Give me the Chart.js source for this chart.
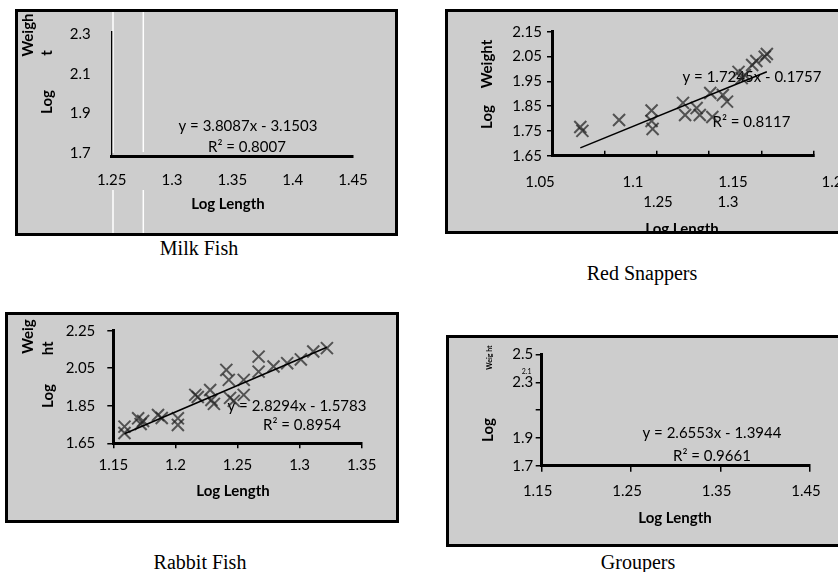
<!DOCTYPE html>
<html>
<head>
<meta charset="utf-8">
<script src="https://cdn.jsdelivr.net/npm/chart.js@4"></script>
<style>
  body { margin:0; background:#fff; width:838px; height:572px; overflow:hidden; position:relative; }
  .box { position:absolute; background:#cdcdcd; border:3px solid #000; }
  .box canvas { display:block; }
  .cap { position:absolute; transform:translate(-50%,-50%); white-space:nowrap; color:#000;
         font-family:"Liberation Serif","Times New Roman",serif; font-size:20px; }
</style>
</head>
<body>

<div class="box" style="left:15px;top:9px;"><canvas id="milk" width="377" height="221"></canvas></div>
<div class="box" style="left:445px;top:9px;"><canvas id="snapper" width="400" height="219"></canvas></div>
<div class="box" style="left:5px;top:312px;"><canvas id="rabbit" width="388" height="205"></canvas></div>
<div class="box" style="left:446px;top:335px;"><canvas id="grouper" width="400" height="206"></canvas></div>

<div class="cap" style="left:199px;top:248px;">Milk Fish</div>
<div class="cap" style="left:642px;top:273px;">Red Snappers</div>
<div class="cap" style="left:200px;top:562px;">Rabbit Fish</div>
<div class="cap" style="left:638px;top:562px;">Groupers</div>

<script>
// ---- data ----
// Milk Fish (no points visible, only axes + fit text)
const milkXTicks = [1.25, 1.3, 1.35, 1.4, 1.45];
const milkXLabels = ["1.25", "1.3", "1.35", "1.4", "1.45"];
const milkYTicks = [1.7, 1.9, 2.1, 2.3];
const milkYLabels = ["1.7", "1.9", "2.1", "2.3"];
const milkFit = [3.8087, -3.1503, 0.8007];

// Red Snappers
const snapperLogLength = [1.077, 1.079, 1.114, 1.145, 1.145, 1.146, 1.175, 1.177, 1.188, 1.191, 1.201,
                          1.203, 1.213, 1.217, 1.228, 1.231, 1.234, 1.241, 1.245, 1.253, 1.255];
const snapperLogWeight = [1.766, 1.750, 1.794, 1.832, 1.790, 1.758, 1.863, 1.814, 1.842, 1.814, 1.903,
                          1.806, 1.895, 1.868, 1.988, 1.963, 1.975, 2.016, 2.032, 2.049, 2.060];
const snapperXTicks = [1.05, 1.1, 1.15, 1.2, 1.25, 1.3];
const snapperXLabelsRow1 = ["1.05", "1.1", "1.15", "1.2"];
const snapperXLabelsRow2 = ["1.25", "1.3"];
const snapperYTicks = [1.65, 1.75, 1.85, 1.95, 2.05, 2.15];
const snapperYLabels = ["1.65", "1.75", "1.85", "1.95", "2.05", "2.15"];
const snapperFit = [1.7245, -0.1757, 0.8117];

// Rabbit Fish
const rabbitLogLength = [1.159, 1.159, 1.170, 1.172, 1.174, 1.186, 1.189, 1.202, 1.202, 1.216, 1.218, 1.228, 1.229, 1.231,
                         1.241, 1.243, 1.244, 1.247, 1.255, 1.255, 1.267, 1.267, 1.279, 1.290, 1.301, 1.311, 1.322];
const rabbitLogWeight = [1.739, 1.705, 1.783, 1.753, 1.769, 1.801, 1.785, 1.783, 1.748, 1.908, 1.897, 1.934, 1.881, 1.860,
                         2.041, 1.988, 1.892, 1.876, 1.988, 1.908, 2.112, 2.032, 2.059, 2.077, 2.097, 2.139, 2.157];
const rabbitXTicks = [1.15, 1.2, 1.25, 1.3, 1.35];
const rabbitXLabels = ["1.15", "1.2", "1.25", "1.3", "1.35"];
const rabbitYTicks = [1.65, 1.85, 2.05, 2.25];
const rabbitYLabels = ["1.65", "1.85", "2.05", "2.25"];
const rabbitFit = [2.8294, -1.5783, 0.8954];

// Groupers (no points visible)
const grouperXTicks = [1.15, 1.25, 1.35, 1.45];
const grouperXLabels = ["1.15", "1.25", "1.35", "1.45"];
const grouperYTicks = [1.7, 1.9, 2.1, 2.3, 2.5];
const grouperYLabels = ["1.7", "1.9", "", "2.3", "2.5"];
const grouperFit = [2.6553, -1.3944, 0.9661];

// ---- drawing ----
const FONT = 'Lato, "Open Sans", sans-serif';
const FS = 15;
Chart.defaults.font.family = FONT;
Chart.defaults.font.size = FS;
Chart.defaults.color = "#000";

function eqText(fit) {
  return "y = " + fit[0].toFixed(4) + "x " + (fit[1] < 0 ? "- " : "+ ") + Math.abs(fit[1]).toFixed(4);
}
function r2Text(fit) {
  return "R\u00B2 = " + fit[2].toFixed(4);
}

function drawNotes(ctx, list) {
  if (!list) return;
  list.forEach(n => {
    ctx.save();
    ctx.font = (n.bold ? "bold " : "") + (n.size || FS) + "px " + FONT;
    ctx.fillStyle = "#000";
    ctx.textAlign = "center";
    ctx.textBaseline = "middle";
    ctx.translate(n.x, n.y);
    if (n.rot) ctx.rotate(-Math.PI / 2);
    ctx.fillText(n.t, 0, 0);
    ctx.restore();
  });
}

const notesPlugin = {
  id: "notes",
  beforeDraw(chart, args, opts) {
    // stray white lines in the Milk Fish panel
    (opts.stripes || []).forEach(s => {
      let ctx = chart.ctx;
      ctx.save();
      ctx.strokeStyle = "#fff";
      ctx.lineWidth = 1.5;
      s.segs.forEach(g => {
        ctx.beginPath();
        ctx.moveTo(s.x, g[0]);
        ctx.lineTo(s.x, g[1]);
        ctx.stroke();
      });
      ctx.restore();
    });
  },
  beforeDatasetsDraw(chart, args, opts) { drawNotes(chart.ctx, opts.under); },
  afterDraw(chart, args, opts) { drawNotes(chart.ctx, opts.over); }
};

function fixSize(key, size) {
  return s => {
    s[key] = size;
    s.paddingLeft = s.paddingRight = s.paddingTop = s.paddingBottom = 0;
  };
}

function axis(o, key, ticks, labels, min, max) {
  return {
    type: "linear",
    min: min,
    max: max,
    afterBuildTicks: s => { s.ticks = ticks.map(v => ({ value: v })); },
    afterFit: fixSize(key === "x" ? "height" : "width", key === "x" ? o.H - o.area.bottom : o.area.left),
    border: { display: true, color: "#000", width: o[key + "Border"] || 3 },
    grid: {
      display: o[key + "Tick"] !== 0,
      drawOnChartArea: false,
      drawTicks: true,
      tickLength: o[key + "Tick"] || 0,
      color: "#000",
      lineWidth: 1.5
    },
    ticks: {
      display: !!labels,
      autoSkip: false,
      maxRotation: 0,
      padding: o[key + "Pad"] || 0,
      labelOffset: o[key + "Offset"] || 0,
      callback: (v, i) => labels ? labels[i] : ""
    }
  };
}

function panel(id, o) {
  let canvas = document.getElementById(id);
  o.W = canvas.width;
  o.H = canvas.height;
  let datasets = [];
  if (o.xs) {
    let x0 = Math.min(...o.xs), x1 = Math.max(...o.xs);
    datasets.push({
      data: [x0, x1].map(x => ({ x: x, y: o.fit[0] * x + o.fit[1] })),
      showLine: true, borderColor: "#000", borderWidth: 1.6, pointRadius: 0, clip: false
    });
    datasets.push({
      data: o.xs.map((x, i) => ({ x: x, y: o.ys[i] })),
      pointStyle: "crossRot", pointRadius: 8.5, borderWidth: 2,
      borderColor: "rgba(35,35,35,0.72)", backgroundColor: "transparent", clip: false
    });
  }
  return new Chart(canvas, {
    type: "scatter",
    data: { datasets: datasets },
    options: {
      responsive: false,
      animation: false,
      events: [],
      layout: { padding: { left: 0, top: o.area.top, right: o.W - o.area.right, bottom: 0 } },
      plugins: {
        legend: { display: false },
        tooltip: { enabled: false },
        notes: { under: o.under, over: o.over, stripes: o.stripes }
      },
      scales: {
        x: axis(o, "x", o.xTicks, o.xLabels, o.xMin, o.xMax),
        y: axis(o, "y", o.yTicks, o.yLabels, o.yMin, o.yMax)
      }
    },
    plugins: [notesPlugin]
  });
}

// Milk Fish
panel("milk", {
  area: { left: 93.7, right: 335, top: 20, bottom: 144.7 },
  xTicks: milkXTicks, xLabels: milkXLabels, xMin: 1.25, xMax: 1.45,
  yTicks: milkYTicks, yLabels: milkYLabels, yMin: 1.68, yMax: 2.312,
  fit: milkFit,
  xTick: 0, yTick: 0, yBorder: 1.3, xPad: 14, yPad: 21,
  stripes: [{ x: 95, segs: [[0, 141], [178, 221]] }, { x: 125.3, segs: [[0, 140], [178, 221]] }],
  under: [
    { t: eqText(milkFit), x: 230, y: 114 },
    { t: r2Text(milkFit), x: 229, y: 135 }
  ],
  over: [
    { t: "Log Length", x: 210, y: 192, bold: true },
    { t: "Weigh", x: 10, y: 23, bold: true, rot: true },
    { t: "t", x: 29, y: 41, bold: true, rot: true },
    { t: "Log", x: 29, y: 90, bold: true, rot: true }
  ]
});

// Red Snappers
let snapperOver = [
  { t: "Weight", x: 38.7, y: 52, bold: true, rot: true },
  { t: "Log", x: 38.7, y: 105, bold: true, rot: true },
  { t: "Log Length", x: 234, y: 217, bold: true }
];
[92, 185, 285, 384].forEach((x, i) => snapperOver.push({ t: snapperXLabelsRow1[i], x: x, y: 170 }));
[210, 280].forEach((x, i) => snapperOver.push({ t: snapperXLabelsRow2[i], x: x, y: 190 }));
panel("snapper", {
  area: { left: 104, right: 366, top: 19.7, bottom: 143.7 },
  xTicks: snapperXTicks, xLabels: null, xMin: 1.05, xMax: 1.3,
  yTicks: snapperYTicks, yLabels: snapperYLabels, yMin: 1.65, yMax: 2.15,
  xs: snapperLogLength, ys: snapperLogWeight, fit: snapperFit,
  xTick: -5, yTick: 5, yPad: 5,
  under: [
    { t: eqText(snapperFit), x: 304, y: 65 },
    { t: r2Text(snapperFit), x: 303.5, y: 110 }
  ],
  over: snapperOver
});

// Rabbit Fish
panel("rabbit", {
  area: { left: 105.3, right: 353.7, top: 15.7, bottom: 128.3 },
  xTicks: rabbitXTicks, xLabels: rabbitXLabels, xMin: 1.15, xMax: 1.35,
  yTicks: rabbitYTicks, yLabels: rabbitYLabels, yMin: 1.65, yMax: 2.25,
  xs: rabbitLogLength, ys: rabbitLogWeight, fit: rabbitFit,
  xTick: 5, yTick: 6, xPad: 7.5, yPad: 12,
  under: [
    { t: eqText(rabbitFit), x: 289, y: 91 },
    { t: r2Text(rabbitFit), x: 294, y: 110 }
  ],
  over: [
    { t: "Log Length", x: 225, y: 176, bold: true },
    { t: "Weig", x: 20.3, y: 21.5, bold: true, rot: true },
    { t: "ht", x: 40.3, y: 33.3, bold: true, rot: true },
    { t: "Log", x: 40.3, y: 81, bold: true, rot: true }
  ]
});

// Groupers
panel("grouper", {
  area: { left: 92.7, right: 361, top: 16.5, bottom: 127.7 },
  xTicks: grouperXTicks, xLabels: grouperXLabels, xMin: 1.15, xMax: 1.45,
  yTicks: grouperYTicks, yLabels: grouperYLabels, yMin: 1.7, yMax: 2.5,
  fit: grouperFit,
  xTick: 6, yTick: 6, xPad: 10.5, yPad: 2.5, xOffset: -4,
  under: [
    { t: eqText(grouperFit), x: 263, y: 95 },
    { t: r2Text(grouperFit), x: 263, y: 118 }
  ],
  over: [
    { t: "Log Length", x: 226, y: 180, bold: true },
    { t: "Log", x: 39.3, y: 92, bold: true, rot: true },
    { t: "Weig ht", x: 41, y: 19.5, bold: true, rot: true, size: 7 },
    { t: "2.1", x: 77.7, y: 33.7, size: 7 }
  ]
});
</script>
</body>
</html>
